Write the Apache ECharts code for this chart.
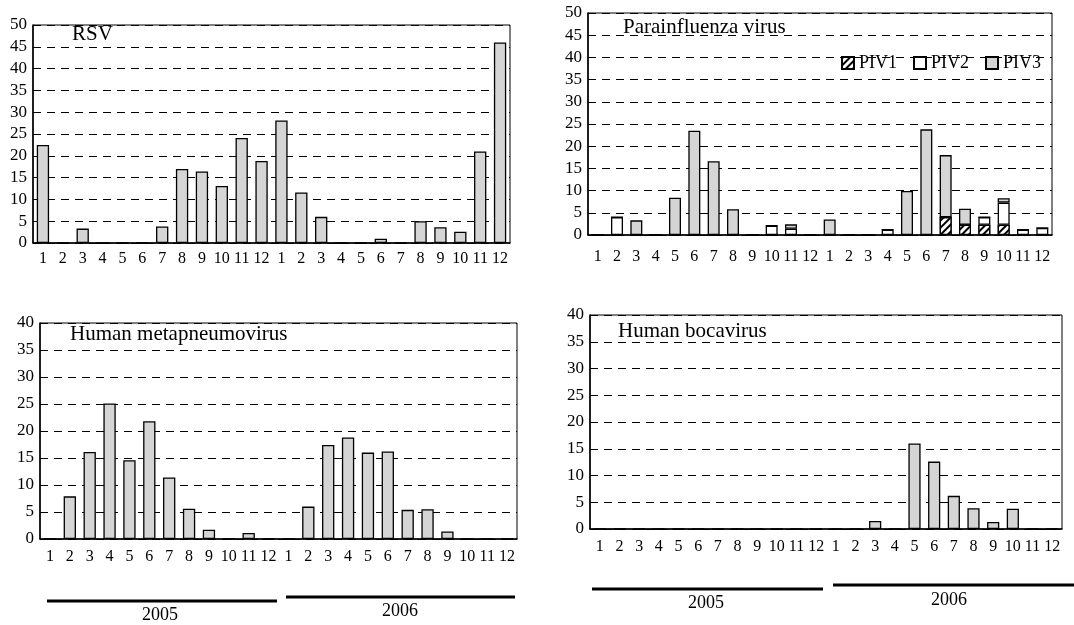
<!DOCTYPE html>
<html>
<head>
<meta charset="utf-8">
<script src="https://cdn.jsdelivr.net/npm/echarts@6/dist/echarts.min.js"></script>
<style>
html,body{margin:0;padding:0;background:#fff}
#chart{width:1074px;height:625px}
</style>
</head>
<body>
<div id="chart"></div>
<script>
// months Jan 2005 .. Dec 2006
var months = ['1','2','3','4','5','6','7','8','9','10','11','12',
              '1','2','3','4','5','6','7','8','9','10','11','12'];
var years = ['2005', '2006'];

var rsv  = [22.5,0,3.3,0,0,0,3.8,17,16.4,13.1,24.1,18.8, 28.1,11.6,6,0,0,1,0,5,3.6,2.6,21,46];
var piv1 = [0,0,0,0,0,0,0,0,0,0,0,0, 0,0,0,0,0,0,4,2.3,2.3,2.3,0,0];
var piv2 = [0,4,0,0,0,0,0,0,0,2.1,1.4,0, 0,0,0,1.2,0,0,0,0,1.7,5,1.2,1.6];
var piv3 = [0,0,3.3,0,8.4,23.5,16.6,5.8,0,0,1,0, 3.5,0,0,0,9.9,23.8,14,3.6,0,1,0,0];
var hmpv = [0,7.9,16.1,25.1,14.6,21.8,11.4,5.6,1.7,0,1.1,0, 0,6,17.4,18.8,16,16.2,5.4,5.5,1.4,0,0,0];
var hbov = [0,0,0,0,0,0,0,0,0,0,0,0, 0,0,1.5,0,16,12.6,6.2,3.9,1.3,3.8,0,0];

var FONT = 'Liberation Serif';
var GRAY = '#d5d5d5';

var grids = [
  {left: 33, top: 25, width: 477, height: 218},
  {left: 588, top: 13, width: 464, height: 222},
  {left: 40, top: 323, width: 477, height: 216},
  {left: 590, top: 315, width: 472, height: 214}
];
var yMax = [50, 50, 40, 40];
var xMargin = [8, 14, 10, 10];

var xAxes = [], yAxes = [];
for (var i = 0; i < 4; i++) {
  grids[i].show = true;
  grids[i].borderColor = '#000';
  grids[i].borderWidth = 1;
  xAxes.push({
    type: 'category', gridIndex: i, data: months,
    axisLine: {lineStyle: {color: '#000', width: 1.5}},
    axisTick: {inside: true, length: 5, lineStyle: {color: '#000'}},
    axisLabel: {interval: 0, margin: xMargin[i], color: '#000', fontFamily: FONT, fontSize: 16}
  });
  yAxes.push({
    type: 'value', gridIndex: i, min: 0, max: yMax[i], interval: 5,
    axisLine: {show: true, lineStyle: {color: '#000', width: 1.5}},
    axisTick: {show: false},
    axisLabel: {margin: 6, color: '#000', fontFamily: FONT, fontSize: 17},
    splitLine: {lineStyle: {color: '#000', type: [8, 6], width: 1}}
  });
}

function bar(name, data, idx, fill, extra) {
  var s = {
    name: name, type: 'bar', data: data,
    xAxisIndex: idx, yAxisIndex: idx,
    barWidth: '62%',
    itemStyle: {color: fill, borderColor: '#000', borderWidth: 1.3}
  };
  for (var k in extra) s[k] = extra[k];
  return s;
}

var hatch = {
  symbol: 'rect', color: '#000', backgroundColor: '#fff',
  dashArrayX: [1, 0], dashArrayY: [1.5, 3], rotation: -Math.PI / 4
};

var series = [
  bar('RSV', rsv, 0, GRAY, {}),
  bar('PIV1', piv1, 1, '#fff', {stack: 'piv'}),
  bar('PIV2', piv2, 1, '#fff', {stack: 'piv'}),
  bar('PIV3', piv3, 1, GRAY, {stack: 'piv'}),
  bar('hMPV', hmpv, 2, GRAY, {}),
  bar('HBoV', hbov, 3, GRAY, {})
];
series[1].itemStyle.decal = hatch;

function title(text, left, top) {
  return {text: text, left: left, top: top, padding: 0,
    textStyle: {fontFamily: FONT, fontSize: 21, fontWeight: 'normal', color: '#000'}};
}

function yearLine(x1, x2, y) {
  return {type: 'line', shape: {x1: x1, y1: y, x2: x2, y2: y},
    style: {stroke: '#000', lineWidth: 3}};
}
function yearText(text, x, y) {
  return {type: 'text', x: x, y: y,
    style: {text: text, fill: '#000', font: '18px "' + FONT + '"', align: 'center', verticalAlign: 'middle'}};
}

var chart = echarts.init(document.getElementById('chart'));
chart.setOption({
  backgroundColor: '#fff',
  animation: false,
  title: [
    title('RSV', 72, 24),
    title('Parainfluenza virus', 623, 17),
    title('Human metapneumovirus', 70, 324),
    title('Human bocavirus', 618, 321)
  ],
  legend: {
    data: ['PIV1', 'PIV2', 'PIV3'],
    icon: 'rect',
    left: 836, top: 49, itemWidth: 12, itemHeight: 12, itemGap: 16,
    textStyle: {fontFamily: FONT, fontSize: 18, color: '#000'}
  },
  grid: grids,
  xAxis: xAxes,
  yAxis: yAxes,
  series: series,
  graphic: [
    yearLine(47, 277, 601), yearLine(286, 515, 597),
    yearText(years[0], 160, 615), yearText(years[1], 400, 611),
    yearLine(592, 823, 589), yearLine(833, 1074, 585),
    yearText(years[0], 706, 603), yearText(years[1], 949, 600)
  ]
});
</script>
</body>
</html>
